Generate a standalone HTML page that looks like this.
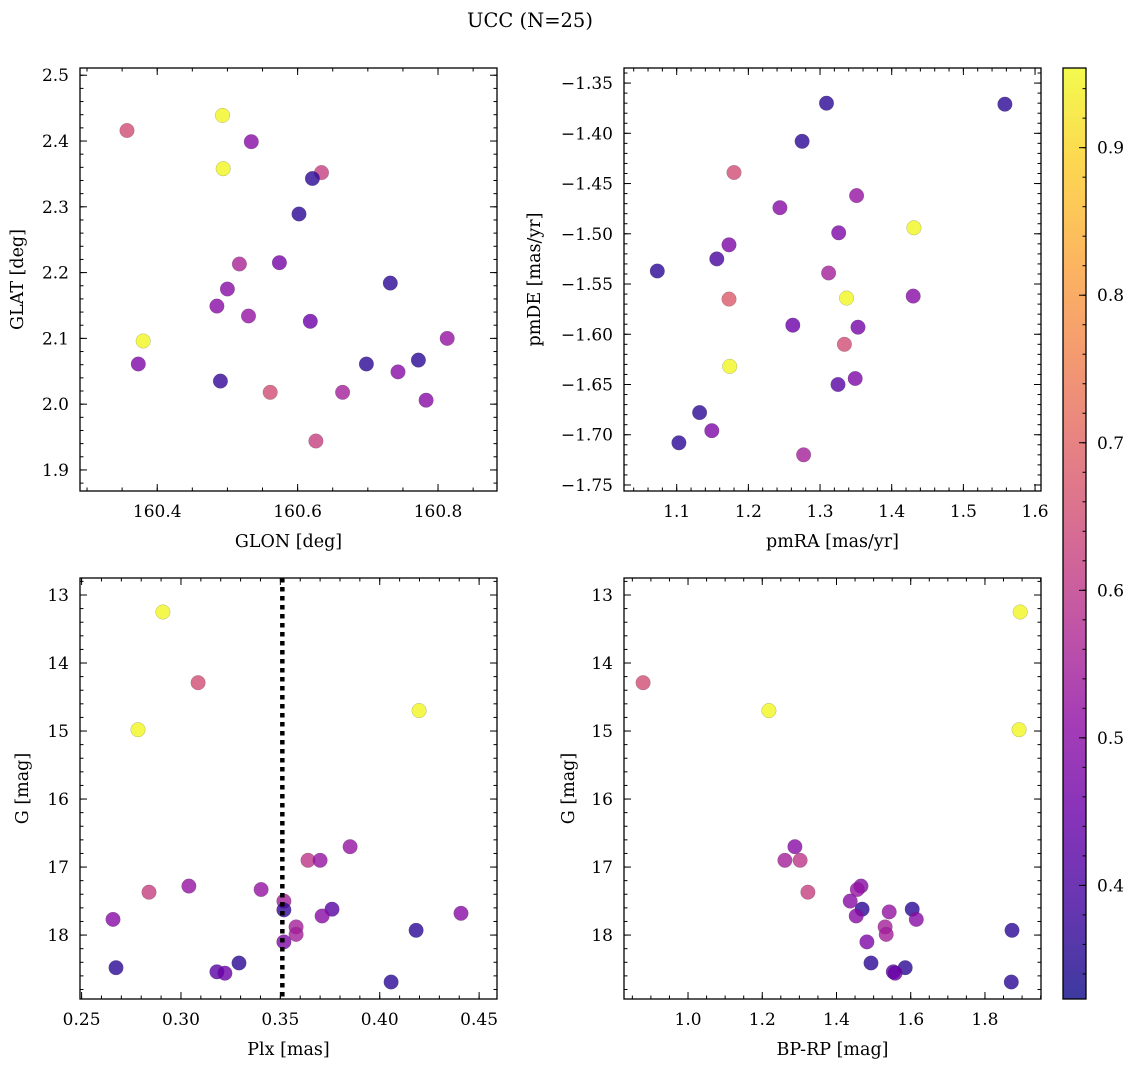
<!DOCTYPE html>
<html><head><meta charset="utf-8"><style>
html,body{margin:0;padding:0;background:#fff;}
svg{display:block;font-family:"DejaVu Serif","Liberation Serif",serif;}
</style></head><body>
<svg id="fig" width="1136" height="1067" viewBox="0 0 1136 1067" xmlns="http://www.w3.org/2000/svg">
<text x="530" y="27" text-anchor="middle" font-size="19.5">UCC (N=25)</text>
</svg>
<script>
// ---- data ----
const glon = [160.357,160.493,160.534,160.494,160.634,160.621,160.602,160.517,160.574,160.732,160.500,160.485,160.530,160.618,160.813,160.380,160.373,160.698,160.772,160.743,160.783,160.490,160.561,160.664,160.626];
const glat = [2.416,2.439,2.399,2.358,2.352,2.343,2.289,2.213,2.215,2.184,2.175,2.149,2.134,2.126,2.100,2.096,2.061,2.061,2.067,2.049,2.006,2.035,2.018,2.018,1.944];
const probGal = [0.65,0.95,0.50,0.95,0.62,0.36,0.36,0.56,0.47,0.36,0.50,0.50,0.52,0.45,0.52,0.95,0.48,0.36,0.36,0.50,0.50,0.37,0.65,0.55,0.62];

const pmra = [1.309,1.558,1.275,1.180,1.351,1.244,1.431,1.326,1.173,1.156,1.073,1.312,1.430,1.173,1.337,1.262,1.353,1.334,1.174,1.349,1.325,1.132,1.149,1.103,1.277];
const pmde = [-1.370,-1.371,-1.408,-1.439,-1.462,-1.474,-1.494,-1.499,-1.511,-1.525,-1.537,-1.539,-1.562,-1.565,-1.564,-1.591,-1.593,-1.610,-1.632,-1.644,-1.650,-1.678,-1.696,-1.708,-1.720];
const probPm = [0.36,0.36,0.36,0.65,0.52,0.50,0.95,0.48,0.48,0.40,0.36,0.55,0.50,0.68,0.95,0.45,0.47,0.65,0.95,0.48,0.42,0.36,0.48,0.36,0.55];

const plx = [0.2909,0.3086,0.4198,0.2784,0.3851,0.3639,0.3700,0.3040,0.3403,0.2839,0.3518,0.2658,0.4409,0.3760,0.3710,0.3518,0.3579,0.3579,0.3518,0.4183,0.2673,0.3292,0.3181,0.3221,0.4057];
const gmagA = [13.25,14.29,14.70,14.98,16.70,16.90,16.90,17.28,17.33,17.37,17.50,17.77,17.68,17.62,17.72,17.63,17.88,17.99,18.10,17.93,18.48,18.41,18.54,18.56,18.69];
const probPlx = [0.95,0.65,0.95,0.95,0.52,0.60,0.52,0.52,0.52,0.62,0.55,0.50,0.50,0.42,0.50,0.37,0.55,0.55,0.48,0.36,0.36,0.36,0.42,0.45,0.36];
const plxLine = [0.351];

const bprp = [1.895,0.879,1.218,1.892,1.288,1.261,1.302,1.323,1.466,1.456,1.437,1.542,1.469,1.604,1.453,1.615,1.531,1.534,1.482,1.873,1.493,1.585,1.553,1.558,1.871];
const gmagB = [13.25,14.29,14.70,14.98,16.70,16.90,16.90,17.37,17.28,17.33,17.50,17.66,17.62,17.62,17.72,17.77,17.88,17.99,18.10,17.93,18.41,18.48,18.54,18.56,18.69];
const probCmd = [0.95,0.65,0.95,0.95,0.50,0.55,0.60,0.62,0.50,0.52,0.50,0.52,0.36,0.36,0.50,0.50,0.55,0.55,0.48,0.36,0.36,0.36,0.42,0.45,0.36];

const cbTicks = [0.4,0.5,0.6,0.7,0.8,0.9];
const vmin = 0.323, vmax = 0.954;

// ---- helpers ----
const NS = "http://www.w3.org/2000/svg";
const svg = document.getElementById('fig');
function mk(tag, attrs, parent){ const e=document.createElementNS(NS,tag); for(const k in attrs) e.setAttribute(k,attrs[k]); (parent||svg).appendChild(e); return e; }
const plasma=[[13,8,135],[65,4,157],[106,0,168],[143,13,164],[177,42,144],[204,71,120],[225,100,98],[242,132,75],[252,166,54],[252,206,37],[240,249,33]];
function cmap(t){ t=Math.max(0,Math.min(1,t)); const f=t*10, i=Math.min(9,Math.floor(f)), r=f-i; const a=plasma[i], b=plasma[i+1];
  return 'rgb('+[0,1,2].map(k=>Math.round(a[k]+(b[k]-a[k])*r)).join(',')+')'; }
function colorOf(p){ return cmap((p-vmin)/(vmax-vmin)); }
function fmt(v,d){ let s=v.toFixed(d); return s.replace('-','\u2212'); }
const TF = 17, LF = 17.5;

function panel(cfg){
  const g = mk('g',{});
  
  
  const {x0,x1,y0,y1}=cfg.box;
  const sx = v => x0 + (v-cfg.xlim[0])/(cfg.xlim[1]-cfg.xlim[0])*(x1-x0);
  const sy = cfg.invert ? (v => y0 + (v-cfg.ylim[0])/(cfg.ylim[1]-cfg.ylim[0])*(y1-y0))
                        : (v => y1 - (v-cfg.ylim[0])/(cfg.ylim[1]-cfg.ylim[0])*(y1-y0));
  const pts = mk('g',{},g);
  
  
  for(let i=0;i<cfg.xs.length;i++){
    const c = mk('circle',{cx:sx(cfg.xs[i]).toFixed(1),cy:sy(cfg.ys[i]).toFixed(1),r:7.3,fill:colorOf(cfg.ps[i]),'fill-opacity':0.8,stroke:'rgba(60,60,60,0.35)','stroke-width':0.5},pts);
    
    
  }
  if(cfg.vline){ for(const v of cfg.vline){
    const l = mk('line',{x1:sx(v),x2:sx(v),y1:y0,y2:y1,stroke:'#000','stroke-width':4.5,'stroke-dasharray':'4.5 4.5'},g);
    
    
  }}
  const tk = mk('g',{stroke:'#000','stroke-width':1},g);
  
  
  const eps=1e-9;
  function range(a,b,step){ const r=[]; let s=Math.ceil((a-eps)/step); for(let v=s*step; v<=b+eps; v=(++s)*step) r.push(+v.toFixed(6)); return r; }
  const xmaj = range(cfg.xlim[0],cfg.xlim[1],cfg.xmaj), xmin=range(cfg.xlim[0],cfg.xlim[1],cfg.xmin);
  const ylo=Math.min(...cfg.ylim), yhi=Math.max(...cfg.ylim);
  const ymaj = range(ylo,yhi,cfg.ymaj), ymin=range(ylo,yhi,cfg.ymin);
  for(const v of xmin){ const X=sx(v); mk('line',{x1:X,x2:X,y1:y1,y2:y1-3.5},tk); mk('line',{x1:X,x2:X,y1:y0,y2:y0+3.5},tk); }
  for(const v of xmaj){ const X=sx(v); mk('line',{x1:X,x2:X,y1:y1,y2:y1-7},tk); mk('line',{x1:X,x2:X,y1:y0,y2:y0+7},tk);
    const t=mk('text',{x:X,y:y1+26,'text-anchor':'middle','font-size':TF,stroke:'none',fill:'#000'},g); t.textContent=fmt(v,cfg.xd);
      }
  for(const v of ymin){ const Y=sy(v); mk('line',{x1:x0,x2:x0+3.5,y1:Y,y2:Y},tk); mk('line',{x1:x1,x2:x1-3.5,y1:Y,y2:Y},tk); }
  for(const v of ymaj){ const Y=sy(v); mk('line',{x1:x0,x2:x0+7,y1:Y,y2:Y},tk); mk('line',{x1:x1,x2:x1-7,y1:Y,y2:Y},tk);
    const t=mk('text',{x:x0-11,y:Y+6,'text-anchor':'end','font-size':TF,fill:'#000'},g); t.textContent=fmt(v,cfg.yd);
      }
  const fr=mk('rect',{x:x0,y:y0,width:x1-x0,height:y1-y0,fill:'none',stroke:'#000','stroke-width':1.3},g);
   
  const xl=mk('text',{x:(x0+x1)/2,y:y1+56,'text-anchor':'middle','font-size':LF},g); xl.textContent=cfg.xlabel;
   
  const cy=(y0+y1)/2, lx=cfg.ylx;
  const yl=mk('text',{x:lx,y:cy,'text-anchor':'middle','font-size':LF,transform:'rotate(-90 '+lx+' '+cy+')'},g); yl.textContent=cfg.ylabel;
   
}

panel({name:'glon-glat-panel',box:{x0:80,x1:497,y0:68,y1:491},xlim:[160.290,160.884],ylim:[1.868,2.511],xs:glon,ys:glat,ps:probGal,
  xmaj:0.2,xmin:0.05,ymaj:0.1,ymin:0.02,xd:1,yd:1,xlabel:'GLON [deg]',ylabel:'GLAT [deg]',ylx:23});
panel({name:'proper-motion-panel',box:{x0:624,x1:1041,y0:68,y1:491},xlim:[1.1-(676.7-624)/716.7,1.1+(1041-676.7)/716.7],ylim:[-1.756,-1.335],xs:pmra,ys:pmde,ps:probPm,
  xmaj:0.1,xmin:0.02,ymaj:0.05,ymin:0.01,xd:1,yd:2,xlabel:'pmRA [mas/yr]',ylabel:'pmDE [mas/yr]',ylx:540});
panel({name:'plx-g-panel',box:{x0:80,x1:497,y0:578,y1:999},xlim:[0.2492,0.459],ylim:[12.75,18.94],invert:true,xs:plx,ys:gmagA,ps:probPlx,vline:plxLine,
  xmaj:0.05,xmin:0.01,ymaj:1,ymin:0.2,xd:2,yd:0,xlabel:'Plx [mas]',ylabel:'G [mag]',ylx:28});
panel({name:'cmd-panel',box:{x0:624,x1:1041,y0:578,y1:999},xlim:[0.8275,1.951],ylim:[12.75,18.94],invert:true,xs:bprp,ys:gmagB,ps:probCmd,
  xmaj:0.2,xmin:0.05,ymaj:1,ymin:0.2,xd:1,yd:0,xlabel:'BP-RP [mag]',ylabel:'G [mag]',ylx:574});

// colorbar
(function(){
  const cb=mk('g',{});
  
  
  const X0=1063,X1=1086,Y0=68,Y1=999;
  const defs=mk('defs',{},cb);
  const lg=mk('linearGradient',{id:'cbg',x1:0,y1:1,x2:0,y2:0},defs);
  for(let i=0;i<=20;i++){ mk('stop',{offset:i/20,'stop-color':cmap(i/20),'stop-opacity':0.8},lg); }
  mk('rect',{x:X0,y:Y0,width:X1-X0,height:Y1-Y0,fill:'url(#cbg)'},cb);
  const sy=v=>Y1-(v-vmin)/(vmax-vmin)*(Y1-Y0);
  for(let v=0.34; v<vmax; v+=0.02){ const Y=sy(v); mk('line',{x1:X1,x2:X1-3.5,y1:Y,y2:Y,stroke:'#000'},cb); }
  for(const v of cbTicks){ const Y=sy(v); mk('line',{x1:X1,x2:X1-7,y1:Y,y2:Y,stroke:'#000'},cb);
    const t=mk('text',{x:X1+11,y:Y+6,'font-size':TF},cb); t.textContent=v.toFixed(1);
      }
  mk('rect',{x:X0,y:Y0,width:X1-X0,height:Y1-Y0,fill:'none',stroke:'#000','stroke-width':1.3},cb);
})();
</script>
</body></html>
